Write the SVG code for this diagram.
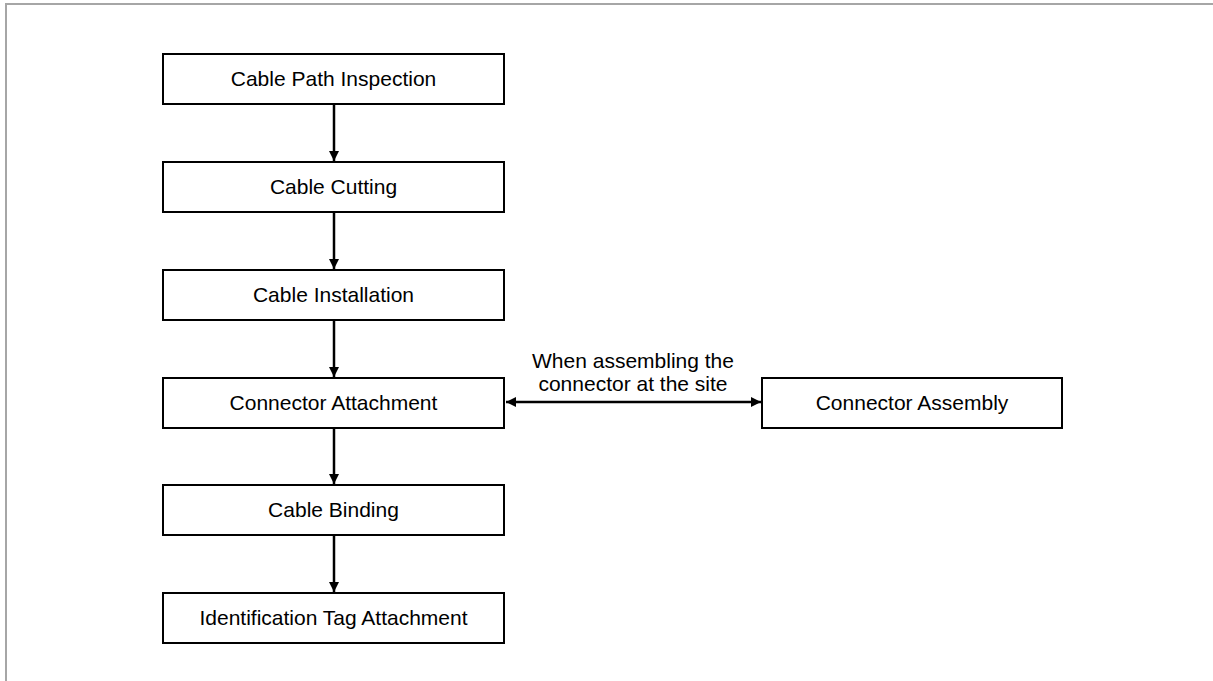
<svg xmlns="http://www.w3.org/2000/svg" width="1213" height="681" viewBox="0 0 1213 681">
  <style>
    .box { fill: #ffffff; stroke: #000000; stroke-width: 2; }
    .lbl { font-family: "Liberation Sans", Arial, sans-serif; font-size: 21px; fill: #000000; text-anchor: middle; }
    .wire { stroke: #000000; stroke-width: 2.5; fill: none; }
    .frame { stroke: #a6a6a6; stroke-width: 2; fill: none; }
  </style>
  <defs>
    <marker id="head" viewBox="0 0 10 10" refX="10" refY="5" markerUnits="userSpaceOnUse" markerWidth="10" markerHeight="10" orient="auto-start-reverse">
      <path d="M0,0 L10,5 L0,10 Z" fill="#000000"/>
    </marker>
  </defs>

  <rect width="1213" height="681" fill="#ffffff"/>
  <!-- page frame: top and left edges -->
  <path class="frame" d="M6,681 L6,4 L1213,4"/>

  <g id="connectors">
    <line class="wire" x1="334" y1="104" x2="334" y2="161" marker-end="url(#head)"/>
    <line class="wire" x1="334" y1="212" x2="334" y2="269" marker-end="url(#head)"/>
    <line class="wire" x1="334" y1="320" x2="334" y2="377" marker-end="url(#head)"/>
    <line class="wire" x1="334" y1="428" x2="334" y2="484" marker-end="url(#head)"/>
    <line class="wire" x1="334" y1="535" x2="334" y2="592" marker-end="url(#head)"/>
    <line class="wire" x1="506" y1="402" x2="761" y2="402" marker-start="url(#head)" marker-end="url(#head)"/>
    <text class="lbl" x="633" y="368">When assembling the</text>
    <text class="lbl" x="633" y="391">connector at the site</text>
  </g>

  <g id="cable-path-inspection">
    <rect class="box" x="163" y="54" width="341" height="50"/>
    <text class="lbl" x="333.5" y="86">Cable Path Inspection</text>
  </g>
  <g id="cable-cutting">
    <rect class="box" x="163" y="162" width="341" height="50"/>
    <text class="lbl" x="333.5" y="194">Cable Cutting</text>
  </g>
  <g id="cable-installation">
    <rect class="box" x="163" y="270" width="341" height="50"/>
    <text class="lbl" x="333.5" y="302">Cable Installation</text>
  </g>
  <g id="connector-attachment">
    <rect class="box" x="163" y="378" width="341" height="50"/>
    <text class="lbl" x="333.5" y="410">Connector Attachment</text>
  </g>
  <g id="cable-binding">
    <rect class="box" x="163" y="485" width="341" height="50"/>
    <text class="lbl" x="333.5" y="517">Cable Binding</text>
  </g>
  <g id="identification-tag-attachment">
    <rect class="box" x="163" y="593" width="341" height="50"/>
    <text class="lbl" x="333.5" y="625">Identification Tag Attachment</text>
  </g>
  <g id="connector-assembly">
    <rect class="box" x="762" y="378" width="300" height="50"/>
    <text class="lbl" x="912" y="410">Connector Assembly</text>
  </g>
</svg>
